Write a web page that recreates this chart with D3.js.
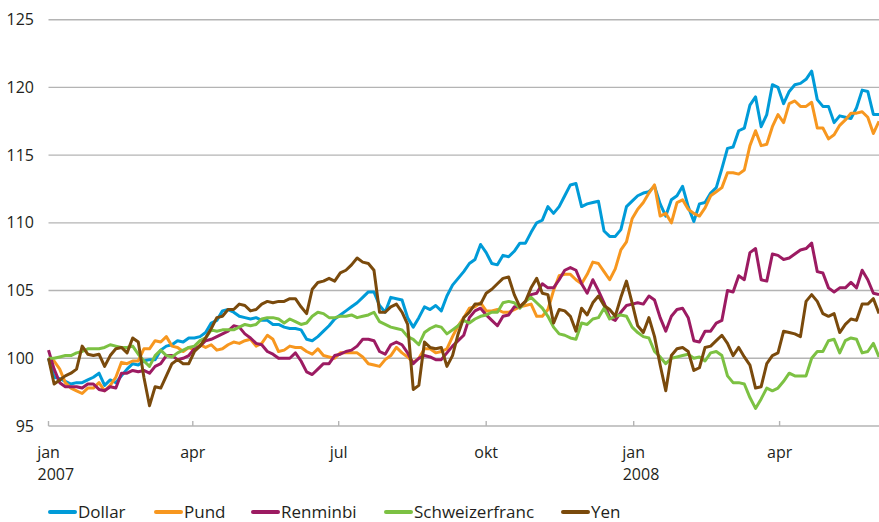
<!DOCTYPE html>
<html>
<head>
<meta charset="utf-8">
<script src="https://cdn.jsdelivr.net/npm/d3@7"></script>
<style>
  body { margin: 0; background: #fff; }
  svg { display: block; font-family: "Open Sans", sans-serif; }
  .grid line { stroke: #b4b4b4; stroke-width: 1.4; }
  .lbl { fill: #231f20; font-size: 16px; }
  .leg { fill: #231f20; font-size: 17px; }
</style>
</head>
<body>
<svg id="svg" width="879" height="522"></svg>
<script>
/* index values read every half week, 2007-01-01 = 100 */

var startDate = new Date(2007, 0, 1);
var endDate = new Date(2008, 5, 2);
var stepHours = 84;

var seriesNames = ['Dollar', 'Pund', 'Renminbi', 'Schweizerfranc', 'Yen'];
var seriesColors = ['#009bd8', '#f7971f', '#9c1b62', '#7cc143', '#7a4a0c'];

var dollar = [100.0, 98.6, 98.5, 98.3, 98.1, 98.2, 98.2, 98.4, 98.6, 98.9,
  98.0, 98.4, 98.2, 98.7, 99.2, 99.6, 99.5, 99.8, 99.9, 99.9,
  100.6, 100.9, 101.0, 101.3, 101.2, 101.5, 101.5, 101.6, 101.9, 102.6,
  102.8, 103.5, 103.6, 103.4, 103.1, 103.0, 102.9, 103.0, 102.8, 102.8,
  102.5, 102.5, 102.3, 102.2, 102.2, 102.1, 101.4, 101.3, 101.6, 102.0,
  102.4, 102.9, 103.2, 103.5, 103.8, 104.1, 104.5, 104.9, 104.9, 103.9,
  103.4, 104.5, 104.4, 104.3, 103.0, 102.3, 103.0, 103.8, 103.6, 103.9,
  103.5, 104.6, 105.4, 105.9, 106.4, 107.0, 107.3, 108.4, 107.8, 107.0,
  106.9, 107.6, 107.5, 107.9, 108.5, 108.5, 109.3, 110.0, 110.2, 111.2,
  110.7, 111.2, 112.0, 112.8, 112.9, 111.2, 111.4, 111.5, 111.6, 109.4,
  109.0, 109.0, 109.5, 111.2, 111.6, 112.0, 112.2, 112.3, 112.7, 111.4,
  110.5, 111.7, 112.0, 112.7, 111.2, 110.1, 111.4, 111.5, 112.2, 112.6,
  114.0, 115.5, 115.6, 116.8, 117.0, 118.7, 119.3, 117.1, 118.0, 120.2,
  120.0, 118.8, 119.7, 120.2, 120.3, 120.6, 121.2, 119.1, 118.6, 118.6,
  117.4, 117.9, 117.8, 117.7, 118.5, 119.8, 119.7, 118.0, 118.0];

var pund = [100.0, 99.8, 99.2, 98.2, 97.8, 97.6, 97.4, 97.8, 97.8, 98.2,
  97.6, 98.0, 98.6, 99.7, 99.6, 99.8, 99.8, 100.7, 100.7, 101.3,
  101.2, 101.6, 100.9, 100.8, 100.5, 100.8, 100.6, 101.0, 100.8, 101.0,
  100.6, 100.7, 101.0, 101.2, 101.1, 101.3, 101.4, 100.9, 101.1, 101.7,
  101.4, 100.5, 100.6, 100.9, 100.8, 100.8, 100.5, 100.3, 100.7, 100.2,
  100.1, 100.0, 100.4, 100.4, 100.4, 100.4, 100.1, 99.6, 99.5, 99.4,
  99.9, 100.2, 100.8, 100.4, 100.1, 99.7, 100.0, 100.7, 100.7, 100.4,
  100.5, 100.7, 101.6, 102.4, 103.0, 103.7, 103.8, 104.1, 103.5, 103.5,
  103.6, 103.4, 103.4, 103.6, 103.8, 103.9, 104.0, 103.1, 103.1, 103.6,
  105.0, 106.1, 106.2, 106.2, 105.8, 105.5, 106.2, 107.1, 107.0, 106.4,
  105.8, 106.6, 108.0, 108.6, 110.3, 111.0, 111.5, 112.2, 112.8, 110.5,
  110.7, 110.0, 111.5, 111.7, 111.0, 110.7, 110.5, 111.1, 112.0, 112.3,
  112.6, 113.7, 113.7, 113.6, 113.9, 115.7, 116.8, 115.7, 115.8, 117.1,
  118.0, 117.4, 118.8, 119.0, 118.6, 118.6, 118.9, 117.0, 117.0, 116.2,
  116.5, 117.2, 117.6, 118.1, 118.1, 118.2, 117.8, 116.6, 117.5];

var renminbi = [100.6, 99.2, 98.2, 97.9, 97.9, 97.9, 97.8, 98.1, 98.1, 97.7,
  97.6, 97.9, 97.8, 98.9, 98.9, 99.1, 99.0, 99.1, 98.9, 99.4,
  99.6, 100.2, 100.2, 99.9, 100.0, 100.2, 100.7, 100.9, 101.3, 101.4,
  101.6, 101.8, 102.0, 102.4, 102.3, 101.8, 101.5, 101.1, 101.0, 100.5,
  100.3, 100.0, 100.0, 100.0, 100.4, 99.8, 99.0, 98.8, 99.2, 99.6,
  99.6, 100.2, 100.3, 100.5, 100.6, 100.9, 101.4, 101.4, 101.3, 100.5,
  100.3, 101.0, 101.2, 101.0, 100.4, 99.6, 100.0, 100.2, 100.1, 99.9,
  99.9, 100.4, 100.9, 101.3, 101.7, 103.0, 103.5, 103.7, 103.2, 102.8,
  102.4, 103.1, 103.2, 103.8, 103.8, 104.2, 104.7, 104.8, 105.5, 105.2,
  105.2, 105.8, 106.5, 106.7, 106.5, 105.5, 104.8, 105.8, 105.0, 104.1,
  103.0, 102.8, 103.4, 103.9, 104.0, 104.1, 104.0, 104.6, 104.3, 103.0,
  102.0, 103.1, 103.6, 103.7, 103.0, 101.3, 101.2, 102.0, 102.0, 102.6,
  102.8, 105.0, 104.9, 106.1, 105.8, 107.8, 108.1, 105.8, 105.7, 107.7,
  107.6, 107.3, 107.4, 107.7, 108.0, 108.1, 108.5, 106.4, 106.3, 105.2,
  104.9, 105.2, 105.2, 105.6, 105.2, 106.5, 105.8, 104.8, 104.7];

var schweizerfranc = [100.0, 100.0, 100.1, 100.2, 100.2, 100.4, 100.5, 100.7, 100.7, 100.7,
  100.8, 101.0, 100.9, 100.8, 100.8, 100.9, 100.3, 99.8, 99.4, 100.2,
  100.6, 100.2, 100.1, 100.4, 100.6, 100.8, 100.9, 101.3, 101.5, 102.1,
  102.0, 102.1, 102.1, 102.1, 102.3, 102.5, 102.4, 102.5, 102.9, 103.0,
  103.0, 102.9, 102.6, 102.9, 102.7, 102.5, 102.6, 103.1, 103.4, 103.3,
  103.0, 103.0, 103.1, 103.1, 103.2, 103.0, 103.1, 103.2, 103.4, 102.7,
  102.5, 102.3, 102.2, 102.1, 101.6, 101.4, 101.0, 101.9, 102.2, 102.4,
  102.3, 101.8, 102.1, 102.4, 102.8, 102.6, 102.9, 103.1, 103.2, 103.4,
  103.4, 104.1, 104.2, 104.1, 103.7, 104.2, 104.5, 104.1, 103.7, 103.1,
  102.3, 101.8, 101.7, 101.5, 101.4, 102.6, 102.5, 102.9, 103.0, 103.7,
  102.9, 103.1, 103.2, 103.1, 102.3, 101.9, 101.6, 101.5, 100.5, 100.1,
  99.6, 100.0, 100.1, 100.2, 100.3, 100.0, 100.1, 99.8, 100.4, 100.5,
  100.2, 98.7, 98.2, 98.2, 98.1, 97.1, 96.3, 97.0, 97.8, 97.6,
  97.8, 98.3, 98.9, 98.7, 98.7, 98.7, 100.0, 100.5, 100.5, 101.3,
  101.4, 100.4, 101.3, 101.5, 101.4, 100.4, 100.5, 101.1, 100.1];

var yen = [100.0, 98.1, 98.4, 98.7, 98.9, 99.2, 100.9, 100.3, 100.2, 100.3,
  99.4, 100.2, 100.7, 100.8, 100.4, 101.5, 101.2, 98.6, 96.5, 97.9,
  97.8, 98.7, 99.6, 99.9, 99.6, 99.6, 100.5, 100.9, 101.5, 102.2,
  103.0, 103.1, 103.6, 103.6, 104.0, 103.9, 103.5, 103.6, 104.0, 104.2,
  104.1, 104.2, 104.2, 104.4, 104.4, 103.8, 103.3, 105.1, 105.6, 105.7,
  105.9, 105.7, 106.3, 106.5, 106.9, 107.4, 107.1, 107.0, 106.5, 103.4,
  103.4, 103.8, 104.0, 103.4, 102.5, 97.7, 98.0, 101.2, 100.8, 100.7,
  100.8, 99.4, 100.2, 101.8, 103.0, 103.4, 104.0, 104.0, 104.8, 105.1,
  105.5, 105.9, 106.0, 104.7, 103.8, 104.2, 105.2, 105.9, 104.8, 104.7,
  102.6, 103.6, 103.5, 103.1, 102.0, 103.7, 103.2, 104.1, 104.6, 103.9,
  103.6, 103.1, 104.5, 105.7, 104.1, 102.4, 101.9, 103.0, 101.6, 99.5,
  97.6, 100.2, 100.7, 100.8, 100.5, 99.1, 99.3, 100.8, 100.9, 101.3,
  101.7, 101.1, 100.2, 100.8, 100.1, 99.5, 97.8, 97.9, 99.6, 100.2,
  100.4, 102.0, 101.9, 101.8, 101.6, 104.2, 104.7, 104.2, 103.3, 103.1,
  103.3, 101.9, 102.5, 102.9, 102.8, 104.0, 104.0, 104.4, 103.3];

var yTicks = [95, 100, 105, 110, 115, 120, 125];
var xTickDates = [new Date(2007, 0, 1), new Date(2007, 3, 1), new Date(2007, 6, 1),
  new Date(2007, 9, 1), new Date(2008, 0, 1), new Date(2008, 3, 1)];
var monthLabels = ['jan', 'apr', 'jul', 'okt', 'jan', 'apr'];
var yearLabels = ['2007', '', '', '', '2008', ''];

var CHART = (function() {
  let chart = {};
  let svg = d3.select('svg');

  let dates = d3.range(dollar.length).map(function(i) {
    return d3.timeHour.offset(startDate, i * stepHours);
  });

  let x = d3.scaleTime().domain([startDate, endDate]).range([48.5, 879]);
  let y = d3.scaleLinear().domain([95, 125]).range([426, 19.7]);

  chart.init = function() {
    // grid
    let grid = svg.append('g').attr('class', 'grid');
    grid.selectAll('line').data(yTicks).enter().append('line')
      .attr('x1', x.range()[0]).attr('x2', 879)
      .attr('y1', function(d) { return y(d); })
      .attr('y2', function(d) { return y(d); });

    svg.append('g').selectAll('text').data(yTicks).enter().append('text')
      .attr('class', 'lbl')
      .attr('x', 34).attr('y', function(d) { return y(d); })
      .attr('dy', '0.35em').attr('text-anchor', 'end')
      .text(function(d) { return d; });

    // x axis ticks point up into the plot
    let xa = svg.append('g');
    xa.selectAll('line').data(xTickDates).enter().append('line')
      .attr('x1', function(d) { return x(d); }).attr('x2', function(d) { return x(d); })
      .attr('y1', y(95) - 5).attr('y2', y(95))
      .attr('stroke', '#b4b4b4').attr('stroke-width', 1.4);

    xa.selectAll('text.m').data(monthLabels).enter().append('text')
      .attr('class', 'lbl m')
      .attr('x', function(d, i) { return x(xTickDates[i]); })
      .attr('y', 458).attr('text-anchor', 'middle')
      .text(function(d) { return d; });

    xa.selectAll('text.yr').data(yearLabels).enter().append('text')
      .attr('class', 'lbl yr')
      .attr('x', function(d, i) { return x(xTickDates[i]) - 11; })
      .attr('y', 480)
      .text(function(d) { return d; });

    // lines
    let all = [dollar, pund, renminbi, schweizerfranc, yen];
    let line = d3.line()
      .x(function(d, i) { return x(dates[i]); })
      .y(function(d) { return y(d); });

    svg.append('g').selectAll('path').data(all).enter().append('path')
      .attr('d', function(d) { return line(d); })
      .attr('fill', 'none')
      .attr('stroke', function(d, i) { return seriesColors[i]; })
      .attr('stroke-width', 3)
      .attr('stroke-linejoin', 'round');

    chart.legend();
  }

  chart.legend = function() {
    let legX = [50, 156, 253, 386, 563];
    let leg = svg.append('g').selectAll('g').data(seriesNames).enter().append('g')
      .attr('transform', function(d, i) { return 'translate(' + legX[i] + ',512)'; });

    leg.append('line')
      .attr('x1', 0).attr('x2', 25).attr('y1', 0).attr('y2', 0)
      .attr('stroke', function(d, i) { return seriesColors[i]; })
      .attr('stroke-width', 4).attr('stroke-linecap', 'round');

    leg.append('text')
      .attr('class', 'leg')
      .attr('x', 28).attr('y', 6)
      .text(function(d) { return d; });
  }

  return chart;
})();

CHART.init();
</script>
</body>
</html>
